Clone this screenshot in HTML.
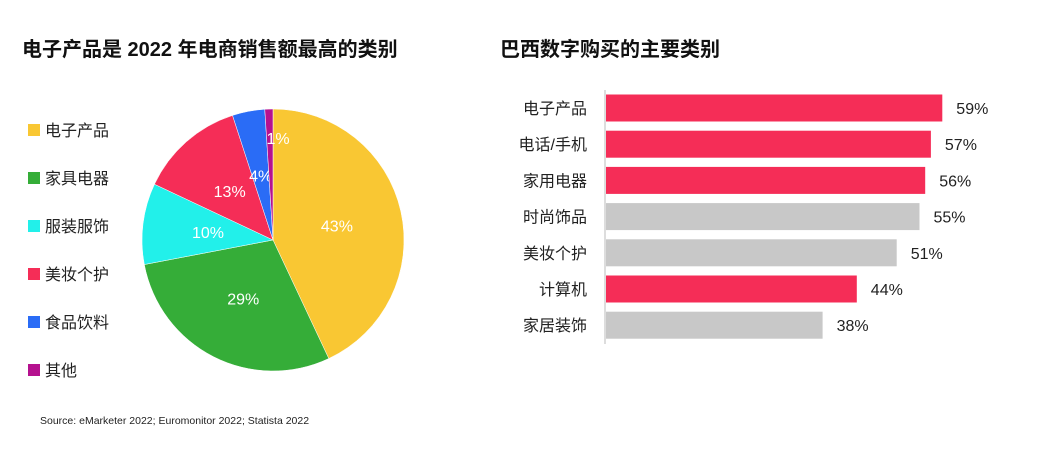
<!DOCTYPE html>
<html><head><meta charset="utf-8"><style>
body{margin:0;width:1051px;height:470px;background:#fff;font-family:"Liberation Sans","Noto Sans CJK SC",sans-serif;overflow:hidden}
svg{position:absolute;left:0;top:0}
</style></head><body>
<svg width="1051" height="470" id="svg">
<text x="22" y="56" font-size="20" font-weight="bold" fill="#111">电子产品是 2022 年电商销售额最高的类别</text>
<text x="500" y="56" font-size="20" font-weight="bold" fill="#111">巴西数字购买的主要类别</text>
<text x="40" y="424" font-size="10.5" fill="#222">Source: eMarketer 2022; Euromonitor 2022; Statista 2022</text>
<line x1="605" y1="90" x2="605" y2="344" stroke="#ddd" stroke-width="2"/>
<g id="pie"></g><g id="legend"></g><g id="bars"></g>
</svg>
<script>
const pieCats=["电子产品","家具电器","服装服饰","美妆个护","食品饮料","其他"];
const pieVals=[43,29,10,13,4,1];
const pieColors=["#f9c733","#35ad38","#22f0ea","#f52d57","#2a6cf6","#b5118f"];
const barCats=["电子产品","电话/手机","家用电器","时尚饰品","美妆个护","计算机","家居装饰"];
const barVals=[59,57,56,55,51,44,38];
const barHi=[true,true,true,false,false,true,false];
const NS="http://www.w3.org/2000/svg";
function mk(t,a,p){const e=document.createElementNS(NS,t);for(const k in a)e.setAttribute(k,a[k]);p.appendChild(e);return e;}
const pie=document.getElementById('pie'),leg=document.getElementById('legend'),bars=document.getElementById('bars');
const cx=273,cy=240,R=131;const tot=pieVals.reduce((a,b)=>a+b,0);
let acc=0;
pieVals.forEach((v,i)=>{
 const a0=acc/tot*2*Math.PI,a1=(acc+v)/tot*2*Math.PI;acc+=v;
 const p=(a)=>[cx+R*Math.sin(a),cy-R*Math.cos(a)];
 const [x0,y0]=p(a0),[x1,y1]=p(a1);
 const s=mk('path',{d:`M${cx},${cy}L${x0},${y0}A${R},${R} 0 ${a1-a0>Math.PI?1:0} 1 ${x1},${y1}Z`,fill:pieColors[i],stroke:'#fff','stroke-width':0.5},pie);
 
 
 const am=(a0+a1)/2,lr=v<3?0.78*R:0.5*R;
 let lx=cx+lr*Math.sin(am),ly=cy-lr*Math.cos(am);
 if(v<3)lx=cx+5;
 const t=mk('text',{x:lx,y:ly+6,'font-size':16,fill:'#fff','text-anchor':'middle'},pie);
 t.textContent=v+'%';
 
 
 const ly2=130+i*48;
 const r=mk('rect',{x:28,y:ly2-6,width:12,height:12,fill:pieColors[i]},leg);
 
 
 const lt=mk('text',{x:45,y:ly2+6,'font-size':16,fill:'#222'},leg);
 lt.textContent=pieCats[i];
 
 
});
const x0=606,k=5.7,y0=108,step=36.2,bh=27;
barVals.forEach((v,i)=>{
 const yc=y0+i*step,w=v*k;
 const b=mk('rect',{x:x0,y:yc-bh/2,width:w,height:bh,fill:barHi[i]?'#f52d57':'#c8c8c8'},bars);
 
 
 const c=mk('text',{x:587,y:yc+6,'font-size':16,fill:'#222','text-anchor':'end'},bars);
 c.textContent=barCats[i];
 
 
 const vt=mk('text',{x:x0+w+14,y:yc+6,'font-size':16,fill:'#222'},bars);
 vt.textContent=v+'%';
 
 
});
</script>
</body></html>
